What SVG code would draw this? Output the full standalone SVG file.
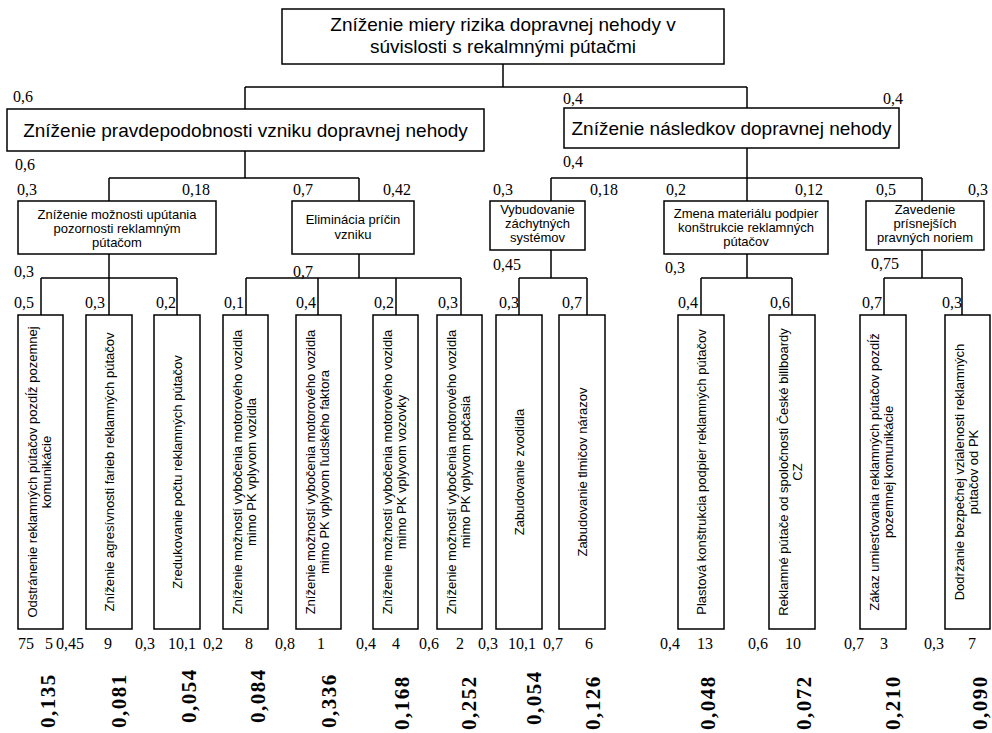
<svg xmlns="http://www.w3.org/2000/svg" width="992" height="733" viewBox="0 0 992 733">
<style>
  .box { fill: #fff; stroke: #000; stroke-width: 1.5; }
  .conn { fill: none; stroke: #000; stroke-width: 1.5; }
  .t19 { font-family: "Liberation Sans", Arial, sans-serif; font-size: 19px; fill: #000; text-anchor: middle; }
  .t13 { font-family: "Liberation Sans", Arial, sans-serif; font-size: 13px; fill: #000; text-anchor: middle; }
  .w { font-family: "Liberation Serif", "Times New Roman", serif; font-size: 16px; fill: #000; }
  .r { font-family: "Liberation Serif", "Times New Roman", serif; font-size: 21px; font-weight: bold; letter-spacing: 1.5px; fill: #000; }
</style>
<rect width="992" height="733" fill="#fff"/>

<g id="connectors">
  <path class="conn" d="M503,64 V87 M245,87 H747 M245,87 V109 M747,87 V108"/>
  <path class="conn" d="M245,151 V178 M109,178 H359 M109,178 V201 M359,178 V201"/>
  <path class="conn" d="M747,148 V178 M551,178 H922 M551,178 V201 M747,178 V201 M922,178 V201"/>
  <path class="conn" d="M109,254 V278 M41,278 H177 M41,278 V315 M109,278 V315 M177,278 V315"/>
  <path class="conn" d="M359,254 V278 M246,278 H461 M246,278 V315 M318,278 V315 M396,278 V315 M461,278 V315"/>
  <path class="conn" d="M551,250 V278 M519,278 H587 M519,278 V315 M587,278 V315"/>
  <path class="conn" d="M747,254 V278 M701,278 H792 M701,278 V315 M792,278 V315"/>
  <path class="conn" d="M922,250 V278 M884,278 H962 M884,278 V315 M962,278 V315"/>
</g>

<g id="root">
  <rect class="box" x="282" y="9" width="442" height="55"/>
  <text class="t19" x="503" y="31">Zníženie miery rizika dopravnej nehody v</text>
  <text class="t19" x="503" y="53">súvislosti s rekalmnými pútačmi</text>
</g>

<g id="n-pravdepodobnost">
  <rect class="box" x="7" y="109" width="477" height="42"/>
  <text class="t19" x="245.5" y="137">Zníženie pravdepodobnosti vzniku dopravnej nehody</text>
</g>
<g id="n-nasledky">
  <rect class="box" x="564" y="108" width="335" height="40"/>
  <text class="t19" x="731.5" y="135">Zníženie následkov dopravnej nehody</text>
</g>

<g id="n-uputanie">
  <rect class="box" x="18" y="201" width="198" height="53"/>
  <text class="t13" x="117" y="219">Zníženie možnosti upútania</text>
  <text class="t13" x="117" y="233">pozornosti reklamným</text>
  <text class="t13" x="117" y="247">pútačom</text>
</g>
<g id="n-eliminacia">
  <rect class="box" x="292" y="201" width="122" height="53"/>
  <text class="t13" x="353" y="224">Eliminácia príčin</text>
  <text class="t13" x="353" y="239">vzniku</text>
</g>
<g id="n-zachytne">
  <rect class="box" x="490" y="201" width="95" height="49"/>
  <text class="t13" x="537.5" y="214">Vybudovanie</text>
  <text class="t13" x="537.5" y="228">záchytných</text>
  <text class="t13" x="537.5" y="242">systémov</text>
</g>
<g id="n-material">
  <rect class="box" x="664" y="201" width="164" height="53"/>
  <text class="t13" x="746" y="218">Zmena materiálu podpier</text>
  <text class="t13" x="746" y="232">konštrukcie reklamných</text>
  <text class="t13" x="746" y="246">pútačov</text>
</g>
<g id="n-normy">
  <rect class="box" x="866" y="201" width="118" height="49"/>
  <text class="t13" x="925" y="214">Zavedenie</text>
  <text class="t13" x="925" y="228">prísnejších</text>
  <text class="t13" x="925" y="242">pravných noriem</text>
</g>

<g id="leaf1">
  <rect class="box" x="18" y="315" width="45" height="314"/>
  <text class="t13" transform="translate(40.5,472) rotate(-90)" y="-4">Odstránenie reklamných pútačov pozdĺž pozemnej</text>
  <text class="t13" transform="translate(40.5,472) rotate(-90)" y="10">komunikácie</text>
</g>
<g id="leaf2">
  <rect class="box" x="86" y="315" width="46" height="314"/>
  <text class="t13" transform="translate(109,472) rotate(-90)" y="4.5">Zníženie agresívnosti farieb reklamných pútačov</text>
</g>
<g id="leaf3">
  <rect class="box" x="154" y="315" width="46" height="314"/>
  <text class="t13" transform="translate(177,472) rotate(-90)" y="4.5">Zredukovanie počtu reklamných pútačov</text>
</g>
<g id="leaf4">
  <rect class="box" x="223" y="315" width="45" height="314"/>
  <text class="t13" transform="translate(245.5,472) rotate(-90)" y="-4">Zníženie možností vybočenia motorového vozidla</text>
  <text class="t13" transform="translate(245.5,472) rotate(-90)" y="10">mimo PK vplyvom vozidla</text>
</g>
<g id="leaf5">
  <rect class="box" x="296" y="315" width="45" height="314"/>
  <text class="t13" transform="translate(318.5,472) rotate(-90)" y="-4">Zníženie možností vybočenia motorového vozidla</text>
  <text class="t13" transform="translate(318.5,472) rotate(-90)" y="10">mimo PK vplyvom ľudského faktora</text>
</g>
<g id="leaf6">
  <rect class="box" x="373" y="315" width="45" height="314"/>
  <text class="t13" transform="translate(395.5,472) rotate(-90)" y="-4">Zníženie možností vybočenia motorového vozidla</text>
  <text class="t13" transform="translate(395.5,472) rotate(-90)" y="10">mimo PK vplyvom vozovky</text>
</g>
<g id="leaf7">
  <rect class="box" x="437" y="315" width="45" height="314"/>
  <text class="t13" transform="translate(459.5,472) rotate(-90)" y="-4">Zníženie možností vybočenia motorového vozidla</text>
  <text class="t13" transform="translate(459.5,472) rotate(-90)" y="10">mimo PK vplyvom počasia</text>
</g>
<g id="leaf8">
  <rect class="box" x="496" y="315" width="46" height="314"/>
  <text class="t13" transform="translate(519,472) rotate(-90)" y="4.5">Zabudovanie zvodidla</text>
</g>
<g id="leaf9">
  <rect class="box" x="559" y="315" width="46" height="314"/>
  <text class="t13" transform="translate(582,472) rotate(-90)" y="4.5">Zabudovanie tlmičov nárazov</text>
</g>
<g id="leaf10">
  <rect class="box" x="678" y="315" width="46" height="314"/>
  <text class="t13" transform="translate(701,472) rotate(-90)" y="4.5">Plastová konštrukcia podpier reklamných pútačov</text>
</g>
<g id="leaf11">
  <rect class="box" x="769" y="315" width="46" height="314"/>
  <text class="t13" transform="translate(792,472) rotate(-90)" y="-4">Reklamné pútače od spoločnosti České billboardy</text>
  <text class="t13" transform="translate(792,472) rotate(-90)" y="10">CZ</text>
</g>
<g id="leaf12">
  <rect class="box" x="860" y="315" width="46" height="314"/>
  <text class="t13" transform="translate(883,472) rotate(-90)" y="-4">Zákaz umiesťovania reklamných pútačov pozdĺž</text>
  <text class="t13" transform="translate(883,472) rotate(-90)" y="10">pozemnej komunikácie</text>
</g>
<g id="leaf13">
  <rect class="box" x="945" y="315" width="45" height="314"/>
  <text class="t13" transform="translate(967.5,472) rotate(-90)" y="-4">Dodržanie bezpečnej vzialenosti reklamných</text>
  <text class="t13" transform="translate(967.5,472) rotate(-90)" y="10">pútačov od PK</text>
</g>

<g id="weights">
  <text class="w" x="13" y="102">0,6</text>
  <text class="w" x="563" y="104">0,4</text>
  <text class="w" x="883" y="104">0,4</text>
  <text class="w" x="15" y="170">0,6</text>
  <text class="w" x="563" y="167">0,4</text>
  <text class="w" x="17" y="195">0,3</text>
  <text class="w" x="182" y="195">0,18</text>
  <text class="w" x="293" y="195">0,7</text>
  <text class="w" x="383" y="195">0,42</text>
  <text class="w" x="493" y="195">0,3</text>
  <text class="w" x="590" y="195">0,18</text>
  <text class="w" x="666" y="195">0,2</text>
  <text class="w" x="795" y="195">0,12</text>
  <text class="w" x="876" y="195">0,5</text>
  <text class="w" x="968" y="195">0,3</text>
  <text class="w" x="14" y="277">0,3</text>
  <text class="w" x="293" y="277">0,7</text>
  <text class="w" x="493" y="270">0,45</text>
  <text class="w" x="665" y="273">0,3</text>
  <text class="w" x="871" y="269">0,75</text>
  <text class="w" x="14" y="308">0,5</text>
  <text class="w" x="85" y="308">0,3</text>
  <text class="w" x="156" y="308">0,2</text>
  <text class="w" x="224" y="308">0,1</text>
  <text class="w" x="296" y="308">0,4</text>
  <text class="w" x="374" y="308">0,2</text>
  <text class="w" x="438" y="308">0,3</text>
  <text class="w" x="499" y="308">0,3</text>
  <text class="w" x="562" y="308">0,7</text>
  <text class="w" x="678" y="308">0,4</text>
  <text class="w" x="770" y="308">0,6</text>
  <text class="w" x="862" y="308">0,7</text>
  <text class="w" x="942" y="308">0,3</text>
</g>

<g id="bottom-values">
  <text class="w" x="18" y="649">75</text>
  <text class="w" x="45" y="649">5</text>
  <text class="w" x="56" y="649">0,45</text>
  <text class="w" x="104" y="649">9</text>
  <text class="w" x="135" y="649">0,3</text>
  <text class="w" x="168" y="649">10,1</text>
  <text class="w" x="203" y="649">0,2</text>
  <text class="w" x="245" y="649">8</text>
  <text class="w" x="275" y="649">0,8</text>
  <text class="w" x="317" y="649">1</text>
  <text class="w" x="356" y="649">0,4</text>
  <text class="w" x="392" y="649">4</text>
  <text class="w" x="419" y="649">0,6</text>
  <text class="w" x="456" y="649">2</text>
  <text class="w" x="478" y="649">0,3</text>
  <text class="w" x="508" y="649">10,1</text>
  <text class="w" x="543" y="649">0,7</text>
  <text class="w" x="585" y="649">6</text>
  <text class="w" x="660" y="649">0,4</text>
  <text class="w" x="697" y="649">13</text>
  <text class="w" x="748" y="649">0,6</text>
  <text class="w" x="785" y="649">10</text>
  <text class="w" x="844" y="649">0,7</text>
  <text class="w" x="880" y="649">3</text>
  <text class="w" x="924" y="649">0,3</text>
  <text class="w" x="968" y="649">7</text>
</g>

<g id="results">
  <text class="r" transform="translate(54.5,728) rotate(-90)">0,135</text>
  <text class="r" transform="translate(125.5,728) rotate(-90)">0,081</text>
  <text class="r" transform="translate(195.5,723) rotate(-90)">0,054</text>
  <text class="r" transform="translate(264.5,723) rotate(-90)">0,084</text>
  <text class="r" transform="translate(335.5,728) rotate(-90)">0,336</text>
  <text class="r" transform="translate(408.5,730) rotate(-90)">0,168</text>
  <text class="r" transform="translate(475.5,730) rotate(-90)">0,252</text>
  <text class="r" transform="translate(540.5,725) rotate(-90)">0,054</text>
  <text class="r" transform="translate(599.5,730) rotate(-90)">0,126</text>
  <text class="r" transform="translate(714.5,730) rotate(-90)">0,048</text>
  <text class="r" transform="translate(810.5,730) rotate(-90)">0,072</text>
  <text class="r" transform="translate(899.5,730) rotate(-90)">0,210</text>
  <text class="r" transform="translate(986.5,730) rotate(-90)">0,090</text>
</g>
</svg>
